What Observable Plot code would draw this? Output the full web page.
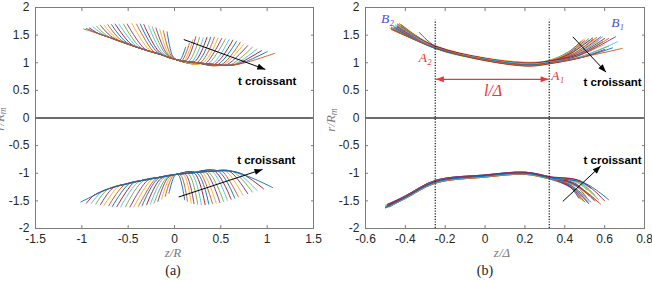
<!DOCTYPE html>
<html>
<head>
<meta charset="utf-8">
<script src="https://cdn.jsdelivr.net/npm/d3@7"></script>
<script src="https://cdn.jsdelivr.net/npm/@observablehq/plot@0.6"></script>
<style>
  body { margin: 0; background: #fff; }
  #fig { position: relative; width: 652px; height: 281px; overflow: hidden; background: #fff; }
  .panel { position: absolute; top: 0; height: 255px; overflow: hidden; }
  .lab { position: absolute; font-family: "Liberation Serif", serif; font-style: italic; color: #7a7a7a;
         font-size: 13px; white-space: nowrap; transform: translate(-50%, -50%); line-height: 1; }
  .lab sub { font-size: 9.5px; vertical-align: -2px; }
  .rot { transform: translate(-50%, -50%) rotate(-90deg); }
  .cap { position: absolute; font-family: "Liberation Serif", serif; font-size: 14px; color: #222;
         transform: translate(-50%, -50%); line-height: 1; }
</style>
</head>
<body>
<div id="fig">
  <div class="panel" id="pa" style="left:0;width:322px"></div>
  <div class="panel" id="pb" style="left:322px;width:330px"></div>
  <div class="lab rot" style="left:1px;top:119px">r/R<sub>m</sub></div>
  <div class="lab rot" style="left:332px;top:120px">r/R<sub>m</sub></div>
  <div class="lab" style="left:173px;top:252px">z/R</div>
  <div class="lab" style="left:502px;top:252px">z/Δ</div>
  <div class="cap" style="left:173px;top:271px">(a)</div>
  <div class="cap" style="left:485px;top:271px">(b)</div>
</div>
<script>
// ---- shared axis settings ----
const yTicks = [-2, -1.5, -1, -0.5, 0, 0.5, 1, 1.5, 2];
const xTicksA = [-1.5, -1, -0.5, 0, 0.5, 1, 1.5];
const xTicksB = [-0.6, -0.4, -0.2, 0, 0.2, 0.4, 0.6, 0.8];
const palette = ["#0072BD", "#D95319", "#EDB120", "#7E2F8E", "#77AC30", "#4DBEEE", "#A2142F"];

// ---- panel (a): upper interface, one profile per time step (index 0 = earliest) ----
const aUpLeftEnd = [[-0.08,1.56],[-0.12,1.58],[-0.16,1.61],[-0.20,1.63],[-0.24,1.65],[-0.28,1.67],[-0.33,1.69],[-0.37,1.70],[-0.41,1.70],[-0.46,1.71],[-0.51,1.70],[-0.55,1.70],[-0.60,1.70],[-0.64,1.70],[-0.68,1.69],[-0.72,1.69],[-0.76,1.68],[-0.80,1.68],[-0.84,1.66],[-0.88,1.65],[-0.92,1.63],[-0.95,1.62],[-0.98,1.61]];
const aUpLeftKnee = [[-0.02,1.12],[-0.04,1.14],[-0.06,1.15],[-0.08,1.16],[-0.10,1.17],[-0.13,1.18],[-0.16,1.19],[-0.19,1.20],[-0.23,1.21],[-0.27,1.23],[-0.32,1.25],[-0.37,1.28],[-0.42,1.31],[-0.47,1.34],[-0.52,1.37],[-0.57,1.40],[-0.62,1.43],[-0.67,1.46],[-0.72,1.48],[-0.77,1.51],[-0.82,1.53],[-0.87,1.56],[-0.90,1.57]];
const aUpLeftBase = [[-0.69,1.45],[-0.33,1.24],[-0.15,1.15]];
const aUpJoin = [0.03, 1.05];
const aUpRightBase = [[0.25,1.0],[0.45,0.965],[0.60,0.955]];
const aUpRightKnee = [[0.06,1.05],[0.08,1.04],[0.10,1.03],[0.12,1.03],[0.15,1.02],[0.18,1.01],[0.21,1.01],[0.24,1.00],[0.27,0.99],[0.30,0.99],[0.33,0.98],[0.36,0.98],[0.40,0.97],[0.43,0.97],[0.46,0.96],[0.50,0.96],[0.53,0.96],[0.56,0.96],[0.60,0.96],[0.64,0.97],[0.68,0.98],[0.72,0.99],[0.76,1.00]];
const aUpRightEnd = [[0.12,1.28],[0.16,1.35],[0.20,1.42],[0.23,1.47],[0.27,1.46],[0.31,1.45],[0.35,1.46],[0.39,1.46],[0.43,1.46],[0.47,1.45],[0.51,1.44],[0.55,1.43],[0.59,1.42],[0.63,1.41],[0.67,1.39],[0.71,1.37],[0.75,1.34],[0.79,1.31],[0.84,1.28],[0.89,1.25],[0.94,1.22],[1.00,1.20],[1.08,1.17]];

// ---- panel (a): lower interface ----
const aLoLeftEnd = [[-0.06,-1.36],[-0.10,-1.42],[-0.14,-1.47],[-0.18,-1.51],[-0.22,-1.54],[-0.26,-1.56],[-0.30,-1.57],[-0.35,-1.59],[-0.39,-1.60],[-0.44,-1.61],[-0.48,-1.61],[-0.53,-1.61],[-0.58,-1.61],[-0.62,-1.60],[-0.67,-1.60],[-0.71,-1.59],[-0.76,-1.58],[-0.80,-1.57],[-0.85,-1.56],[-0.90,-1.55],[-0.95,-1.54],[-1.01,-1.52]];
const aLoLeftKnee = [[-0.01,-1.08],[-0.03,-1.08],[-0.05,-1.08],[-0.07,-1.08],[-0.09,-1.09],[-0.12,-1.09],[-0.15,-1.10],[-0.18,-1.10],[-0.21,-1.11],[-0.25,-1.12],[-0.29,-1.13],[-0.34,-1.14],[-0.39,-1.16],[-0.44,-1.17],[-0.49,-1.19],[-0.54,-1.21],[-0.60,-1.23],[-0.66,-1.26],[-0.72,-1.29],[-0.79,-1.34],[-0.87,-1.40],[-0.95,-1.47]];
const aLoLeftBase = [[-0.71,-1.28],[-0.51,-1.19],[-0.35,-1.13],[-0.15,-1.07]];
const aLoJoin = [0.02, -1.02];
const aLoRightBase = [[0.20,-0.99],[0.42,-0.96],[0.60,-0.96]];
const aLoRightKnee = [[0.05,-1.05],[0.07,-1.04],[0.10,-1.03],[0.12,-1.02],[0.15,-1.01],[0.18,-1.00],[0.21,-0.99],[0.24,-0.99],[0.27,-0.98],[0.30,-0.98],[0.33,-0.97],[0.36,-0.97],[0.40,-0.96],[0.43,-0.96],[0.47,-0.96],[0.51,-0.96],[0.55,-0.96],[0.59,-0.96],[0.63,-0.97],[0.68,-0.99],[0.74,-1.02],[0.80,-1.06]];
const aLoRightEnd = [[0.11,-1.48],[0.14,-1.51],[0.18,-1.54],[0.21,-1.55],[0.25,-1.56],[0.29,-1.57],[0.33,-1.57],[0.37,-1.56],[0.41,-1.55],[0.45,-1.54],[0.49,-1.53],[0.53,-1.51],[0.57,-1.49],[0.61,-1.47],[0.65,-1.45],[0.69,-1.43],[0.74,-1.40],[0.79,-1.37],[0.84,-1.34],[0.89,-1.31],[0.96,-1.28],[1.06,-1.26]];

// ---- panel (b): upper interface in rescaled coordinates ----
const bUpLeftEnd = [[-0.42,1.66],[-0.43,1.70],[-0.44,1.68],[-0.33,1.55],[-0.43,1.71],[-0.45,1.67],[-0.44,1.70],[-0.46,1.65],[-0.42,1.69],[-0.45,1.69],[-0.47,1.64],[-0.43,1.67],[-0.46,1.67],[-0.44,1.66],[-0.47,1.62],[-0.45,1.64],[-0.48,1.63],[-0.44,1.64],[-0.46,1.62],[-0.43,1.65],[-0.47,1.61],[-0.45,1.62],[-0.47,1.60]];
const bUpStations = [-0.25, 0, 0.22, 0.32];
const bUpAtA2 = [1.30,1.29,1.31,1.30,1.28,1.29,1.27,1.30,1.28,1.26,1.29,1.27,1.28,1.30,1.26,1.28,1.27,1.29,1.26,1.28,1.27,1.26,1.28];
const bUpAt0 = [1.08,1.07,1.09,1.06,1.08,1.05,1.07,1.06,1.08,1.04,1.07,1.05,1.06,1.08,1.05,1.07,1.04,1.06,1.05,1.07,1.04,1.06,1.05];
const bUpAt22 = [1.00,0.99,1.01,0.97,0.99,0.96,0.98,0.97,1.00,0.95,0.98,0.96,0.97,0.99,0.95,0.98,0.94,0.97,0.96,0.98,0.94,0.96,0.95];
const bUpAtA1 = [1.04,1.03,1.04,1.01,1.03,1.00,1.02,1.01,1.03,0.99,1.02,1.00,1.01,1.03,0.99,1.01,0.98,1.00,0.99,1.01,0.98,1.00,0.99];
const bUpRightMid = [[0.42,1.20],[0.42,1.19],[0.43,1.21],[0.42,1.17],[0.43,1.18],[0.43,1.16],[0.43,1.17],[0.44,1.15],[0.44,1.16],[0.44,1.14],[0.45,1.15],[0.45,1.13],[0.45,1.13],[0.46,1.14],[0.46,1.12],[0.46,1.12],[0.47,1.13],[0.47,1.13],[0.47,1.10],[0.48,1.11],[0.48,1.09],[0.49,1.10],[0.50,1.11]];
const bUpRightEnd = [[0.48,1.38],[0.49,1.41],[0.50,1.43],[0.50,1.40],[0.52,1.44],[0.52,1.41],[0.54,1.45],[0.54,1.42],[0.56,1.46],[0.56,1.43],[0.58,1.47],[0.57,1.40],[0.59,1.47],[0.60,1.44],[0.59,1.38],[0.62,1.44],[0.60,1.33],[0.655,1.47],[0.62,1.30],[0.664,1.38],[0.60,1.24],[0.64,1.27],[0.689,1.26]];

// ---- panel (b): lower interface ----
const bLoLeftEnd = [[-0.47,-1.56],[-0.49,-1.60],[-0.48,-1.58],[-0.50,-1.62],[-0.47,-1.55],[-0.49,-1.61],[-0.48,-1.59],[-0.50,-1.60],[-0.47,-1.57],[-0.49,-1.62],[-0.48,-1.56],[-0.50,-1.58],[-0.47,-1.59],[-0.49,-1.57],[-0.48,-1.61],[-0.50,-1.63],[-0.47,-1.58],[-0.49,-1.56],[-0.48,-1.60],[-0.50,-1.61],[-0.49,-1.59],[-0.50,-1.62]];
const bLoStations = [-0.40, -0.25, 0, 0.2, 0.32];
const bLoAt40 = [-1.42,-1.44,-1.43,-1.45,-1.41,-1.44,-1.43,-1.45,-1.42,-1.46,-1.41,-1.44,-1.43,-1.42,-1.45,-1.46,-1.42,-1.41,-1.44,-1.45,-1.43,-1.44];
const bLoAtA2 = [-1.14,-1.16,-1.15,-1.18,-1.13,-1.17,-1.15,-1.16,-1.14,-1.18,-1.13,-1.16,-1.15,-1.14,-1.17,-1.18,-1.14,-1.13,-1.16,-1.17,-1.15,-1.16];
const bLoAt0 = [-1.04,-1.06,-1.05,-1.07,-1.03,-1.06,-1.05,-1.06,-1.04,-1.07,-1.03,-1.05,-1.04,-1.04,-1.06,-1.07,-1.04,-1.03,-1.05,-1.06,-1.04,-1.05];
const bLoAt20 = [-1.00,-1.01,-0.99,-1.02,-0.98,-1.01,-1.00,-1.01,-0.99,-1.02,-0.98,-1.00,-0.99,-0.99,-1.01,-1.02,-0.99,-0.98,-1.00,-1.01,-0.99,-1.00];
const bLoAtA1 = [-1.08,-1.09,-1.07,-1.10,-1.06,-1.09,-1.08,-1.08,-1.07,-1.10,-1.06,-1.08,-1.07,-1.07,-1.09,-1.10,-1.07,-1.06,-1.08,-1.09,-1.07,-1.08];
const bLoRightMid = [[0.42,-1.22],[0.42,-1.23],[0.43,-1.25],[0.43,-1.26],[0.43,-1.22],[0.44,-1.25],[0.44,-1.27],[0.44,-1.24],[0.44,-1.18],[0.44,-1.14],[0.45,-1.18],[0.45,-1.13],[0.45,-1.15],[0.45,-1.20],[0.46,-1.22],[0.46,-1.24],[0.46,-1.16],[0.46,-1.12],[0.47,-1.15],[0.47,-1.16],[0.48,-1.14],[0.50,-1.18]];
const bLoRightEnd = [[0.47,-1.45],[0.48,-1.47],[0.49,-1.50],[0.50,-1.52],[0.51,-1.50],[0.52,-1.53],[0.52,-1.55],[0.53,-1.52],[0.51,-1.44],[0.50,-1.36],[0.52,-1.40],[0.51,-1.30],[0.53,-1.33],[0.55,-1.50],[0.57,-1.53],[0.58,-1.56],[0.56,-1.45],[0.53,-1.27],[0.55,-1.40],[0.57,-1.48],[0.60,-1.50],[0.62,-1.48]];

// ---- annotations ----
const arrowsA = [{x1: 0.10, y1: 1.42, x2: 0.98, y2: 0.88}, {x1: 0.045, y1: -1.43, x2: 0.95, y2: -0.93}];
const labelsA = [{x: 1.0, y: 0.67, text: "t croissant"}, {x: 0.99, y: -0.77, text: "t croissant"}];
const arrowsB = [{x1: 0.44, y1: 1.47, x2: 0.607, y2: 0.83}, {x1: 0.39, y1: -1.51, x2: 0.58, y2: -0.87}];
const labelsB = [{x: 0.64, y: 0.65, text: "t croissant"}, {x: 0.64, y: -0.77, text: "t croissant"}];
const neckBounds = [-0.25, 0.322];
const neckLength = [{x1: -0.247, x2: 0.319, y: 0.70}];
const lengthLabel = [{x: 0.04, y: 0.50, text: "l/Δ"}];
const pointLabelsA = [{x: -0.30, y: 1.10, text: "A₂"}, {x: 0.365, y: 0.77, text: "A₁"}];
const pointLabelsB = [{x: -0.49, y: 1.79, text: "B₂"}, {x: 0.665, y: 1.73, text: "B₁"}];

// ---- assemble profile tables ----
function profilesA(leftEnd, leftKnee, leftBase, join, rightBase, rightKnee, rightEnd, tag) {
  const rows = [];
  leftEnd.forEach((p, k) => {
    const lk = leftKnee[k], rk = rightKnee[k];
    const pts = [p, lk,
      ...leftBase.filter(q => q[0] > lk[0] + 0.05),
      join,
      ...rightBase.filter(q => q[0] < rk[0] - 0.05),
      rk, rightEnd[k]];
    pts.forEach(([x, y]) => rows.push({x, y, k, id: tag + k}));
  });
  return rows;
}
function profilesB(leftEnd, stations, band, rightMid, rightEnd, tag) {
  const rows = [];
  leftEnd.forEach((p, k) => {
    const pts = [p, ...stations.map((sx, j) => [sx, band[j][k]]), rightMid[k], rightEnd[k]];
    pts.forEach(([x, y]) => rows.push({x, y, k, id: tag + k}));
  });
  return rows;
}

const rowsA = [
  ...profilesA(aUpLeftEnd, aUpLeftKnee, aUpLeftBase, aUpJoin, aUpRightBase, aUpRightKnee, aUpRightEnd, "u"),
  ...profilesA(aLoLeftEnd, aLoLeftKnee, aLoLeftBase, aLoJoin, aLoRightBase, aLoRightKnee, aLoRightEnd, "l")
];
const rowsB = [
  ...profilesB(bUpLeftEnd, bUpStations, [bUpAtA2, bUpAt0, bUpAt22, bUpAtA1], bUpRightMid, bUpRightEnd, "u"),
  ...profilesB(bLoLeftEnd, bLoStations, [bLoAt40, bLoAtA2, bLoAt0, bLoAt20, bLoAtA1], bLoRightMid, bLoRightEnd, "l")
];

// filled triangular arrowhead marker
function arrowHead(color, context) {
  const ns = "http://www.w3.org/2000/svg";
  const doc = (context && context.document) || document;
  const m = doc.createElementNS(ns, "marker");
  m.setAttribute("viewBox", "-9 -4 10 8");
  m.setAttribute("markerWidth", 10);
  m.setAttribute("markerHeight", 8);
  m.setAttribute("markerUnits", "userSpaceOnUse");
  m.setAttribute("orient", "auto-start-reverse");
  m.setAttribute("fill", color);
  m.setAttribute("stroke", "none");
  const p = doc.createElementNS(ns, "path");
  p.setAttribute("d", "M-8,-3L0,0L-8,3Z");
  m.appendChild(p);
  return m;
}

const frameColor = "#7c7c7c";
const textColor = "#262626";
const tickFont = 12;

function axes(xTicks) {
  return [
    Plot.axisX({anchor: "bottom", ticks: xTicks, tickSize: 3, dy: -3, fill: "none", stroke: frameColor, label: null}),
    Plot.axisX({anchor: "top", ticks: xTicks, tickSize: 3, dy: 3, fill: "none", stroke: frameColor, label: null}),
    Plot.axisY({anchor: "left", ticks: yTicks, tickSize: 3, dx: 3, fill: "none", stroke: frameColor, label: null}),
    Plot.axisY({anchor: "right", ticks: yTicks, tickSize: 3, dx: -3, fill: "none", stroke: frameColor, label: null}),
    Plot.axisX({anchor: "bottom", ticks: xTicks, tickSize: 0, tickPadding: 6, fontSize: tickFont,
      tickFormat: d => String(d), fill: textColor, label: null}),
    Plot.axisY({anchor: "left", ticks: yTicks, tickSize: 0, tickPadding: 6, fontSize: tickFont,
      tickFormat: d => String(d), fill: textColor, label: null})
  ];
}

const common = {
  height: 255, marginTop: 7, marginBottom: 27,
  y: {domain: [-2, 2]},
  style: {fontFamily: "'Liberation Sans', Arial, sans-serif", fontSize: "12px", color: textColor, background: "white"}
};

const profileLine = rows => Plot.line(rows, {
  x: "x", y: "y", z: "id", stroke: d => palette[d.k % 7],
  curve: "catmull-rom", strokeWidth: 0.95
});

const boldText = {x: "x", y: "y", text: "text", fontWeight: "bold", fontSize: 11.5, fill: "black",
  fontFamily: "'Liberation Sans', Arial, sans-serif"};
const serifText = {x: "x", y: "y", text: "text", fontStyle: "italic", fontSize: 13.5,
  fontFamily: "'Liberation Serif', 'DejaVu Serif', serif"};

const chartA = Plot.plot({
  ...common, width: 322, marginLeft: 35, marginRight: 9,
  x: {domain: [-1.5, 1.5]},
  marks: [
    Plot.frame({stroke: frameColor}),
    Plot.ruleY([0], {stroke: "#3a3a3a", strokeWidth: 1.5}),
    profileLine(rowsA),
    Plot.link(arrowsA, {x1: "x1", y1: "y1", x2: "x2", y2: "y2", stroke: "black", strokeWidth: 1, markerEnd: arrowHead}),
    Plot.text(labelsA, boldText),
    ...axes(xTicksA)
  ]
});

const chartB = Plot.plot({
  ...common, width: 330, marginLeft: 43, marginRight: 8,
  x: {domain: [-0.6, 0.8]},
  marks: [
    Plot.frame({stroke: frameColor}),
    Plot.ruleY([0], {stroke: "#3a3a3a", strokeWidth: 1.5}),
    profileLine(rowsB),
    Plot.ruleX(neckBounds, {y1: -2, y2: 1.77, stroke: "#111", strokeWidth: 1.2, strokeDasharray: "1.2,1.5"}),
    Plot.link(neckLength, {x1: "x1", x2: "x2", y1: "y", y2: "y", stroke: "#f03434", strokeWidth: 1.2,
      markerStart: arrowHead, markerEnd: arrowHead}),
    Plot.link(arrowsB, {x1: "x1", y1: "y1", x2: "x2", y2: "y2", stroke: "black", strokeWidth: 1, markerEnd: arrowHead}),
    Plot.text(labelsB, boldText),
    Plot.text(lengthLabel, {...serifText, fontSize: 16, fill: "#f03434"}),
    Plot.text(pointLabelsA, {...serifText, fill: "#f03434"}),
    Plot.text(pointLabelsB, {...serifText, fill: "#4b4be6"}),
    ...axes(xTicksB)
  ]
});

document.getElementById("pa").appendChild(chartA);
document.getElementById("pb").appendChild(chartB);
</script>
</body>
</html>
